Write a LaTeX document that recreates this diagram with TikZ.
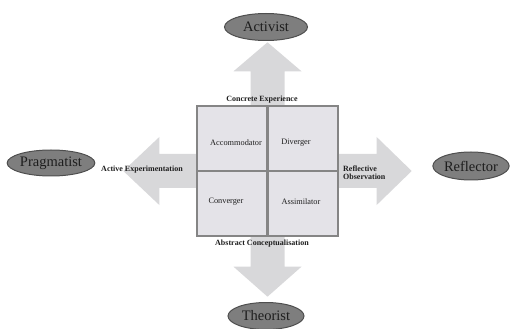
\documentclass[tikz,border=0pt]{standalone}
\usepackage{fontspec}
\setmainfont{Liberation Serif}
\usepackage{xcolor}
\usetikzlibrary{shapes.geometric}
\definecolor{arrowgray}{HTML}{D8D8DA}
\definecolor{gridfill}{HTML}{E4E3E8}
\definecolor{gridline}{HTML}{858585}
\definecolor{stylefill}{HTML}{7E7E7E}
\definecolor{stylerim}{HTML}{4E4E4E}
\definecolor{styletext}{HTML}{1E1E1E}

\begin{document}
\begin{tikzpicture}[x=1pt, y=-1pt,
    learner/.style={ellipse, draw=stylerim, fill=stylefill, line width=1pt, inner sep=0pt,
        minimum width=80pt, minimum height=27pt, text=styletext, font=\fontsize{14.5}{14.5}\selectfont},
    grid/.style={rectangle, draw=gridline, fill=gridfill, line width=1.4pt, inner sep=0pt,
        minimum width=141pt, minimum height=130pt},
    divider/.style={draw=gridline, line width=2.4pt},
    quadlabel/.style={inner sep=0pt, text=styletext, font=\fontsize{8.3}{8.3}\selectfont},
    phase/.style={inner sep=0pt, text=styletext, font=\bfseries\fontsize{8}{8.5}\selectfont},
    fatarrow/.style={fill=arrowgray}]
    \useasboundingbox (0,0) rectangle (515,329);
    % Learning cycle grid
    \node[grid] (grid) at (267.5,171) {};
    % Arrows out of the grid
    \fill[fatarrow] ([xshift=-17]grid.north) -- ++(0,-34) -- ++(-17,0) -- ++(34,-29) -- ++(34,29) -- ++(-17,0) -- ++(0,34) -- cycle;
    \fill[fatarrow] ([xshift=-17]grid.south) -- ++(0,30) -- ++(-17,0) -- ++(34,30) -- ++(34,-30) -- ++(-17,0) -- ++(0,-30) -- cycle;
    \fill[fatarrow] ([yshift=17]grid.west) -- ++(-37,0) -- ++(0,-17) -- ++(-36,34) -- ++(36,34) -- ++(0,-17) -- ++(37,0) -- cycle;
    \fill[fatarrow] ([yshift=17]grid.east) -- ++(38,0) -- ++(0,-17) -- ++(35,34) -- ++(-35,34) -- ++(0,-17) -- ++(-38,0) -- cycle;
    \node[grid] at (grid) {};
    \draw[divider] (grid.north) -- (grid.south);
    \draw[divider] (grid.west) -- (grid.east);
    % Quadrants
    \node[quadlabel] (acc) at (236,143) {Accommodator};
    \node[quadlabel] (div) at (296,143) {Diverger};
    \node[quadlabel] (con) at (226,202) {Converger};
    \node[quadlabel] (ass) at (301,202) {Assimilator};
    % Phases
    \node[phase] (ce) at (262,100) {Concrete Experience};
    \node[phase] (ac) at (262,244) {Abstract Conceptualisation};
    \node[phase] (ae) at (142,170) {Active Experimentation};
    \node[phase, anchor=west, align=left] (ro) at (343,172.5) {Reflective\\Observation};
    % Learning styles
    \node[learner, minimum width=83pt] (activist) at (266,27) {Activist};
    \node[learner, minimum width=76pt] (theorist) at (266,316) {Theorist};
    \node[learner, minimum width=82pt, minimum height=26pt] (pragmatist) at (51,163) {Pragmatist};
    \node[learner, minimum width=74pt, minimum height=28pt] (reflector) at (471,166) {Reflector};
\end{tikzpicture}
\end{document}
